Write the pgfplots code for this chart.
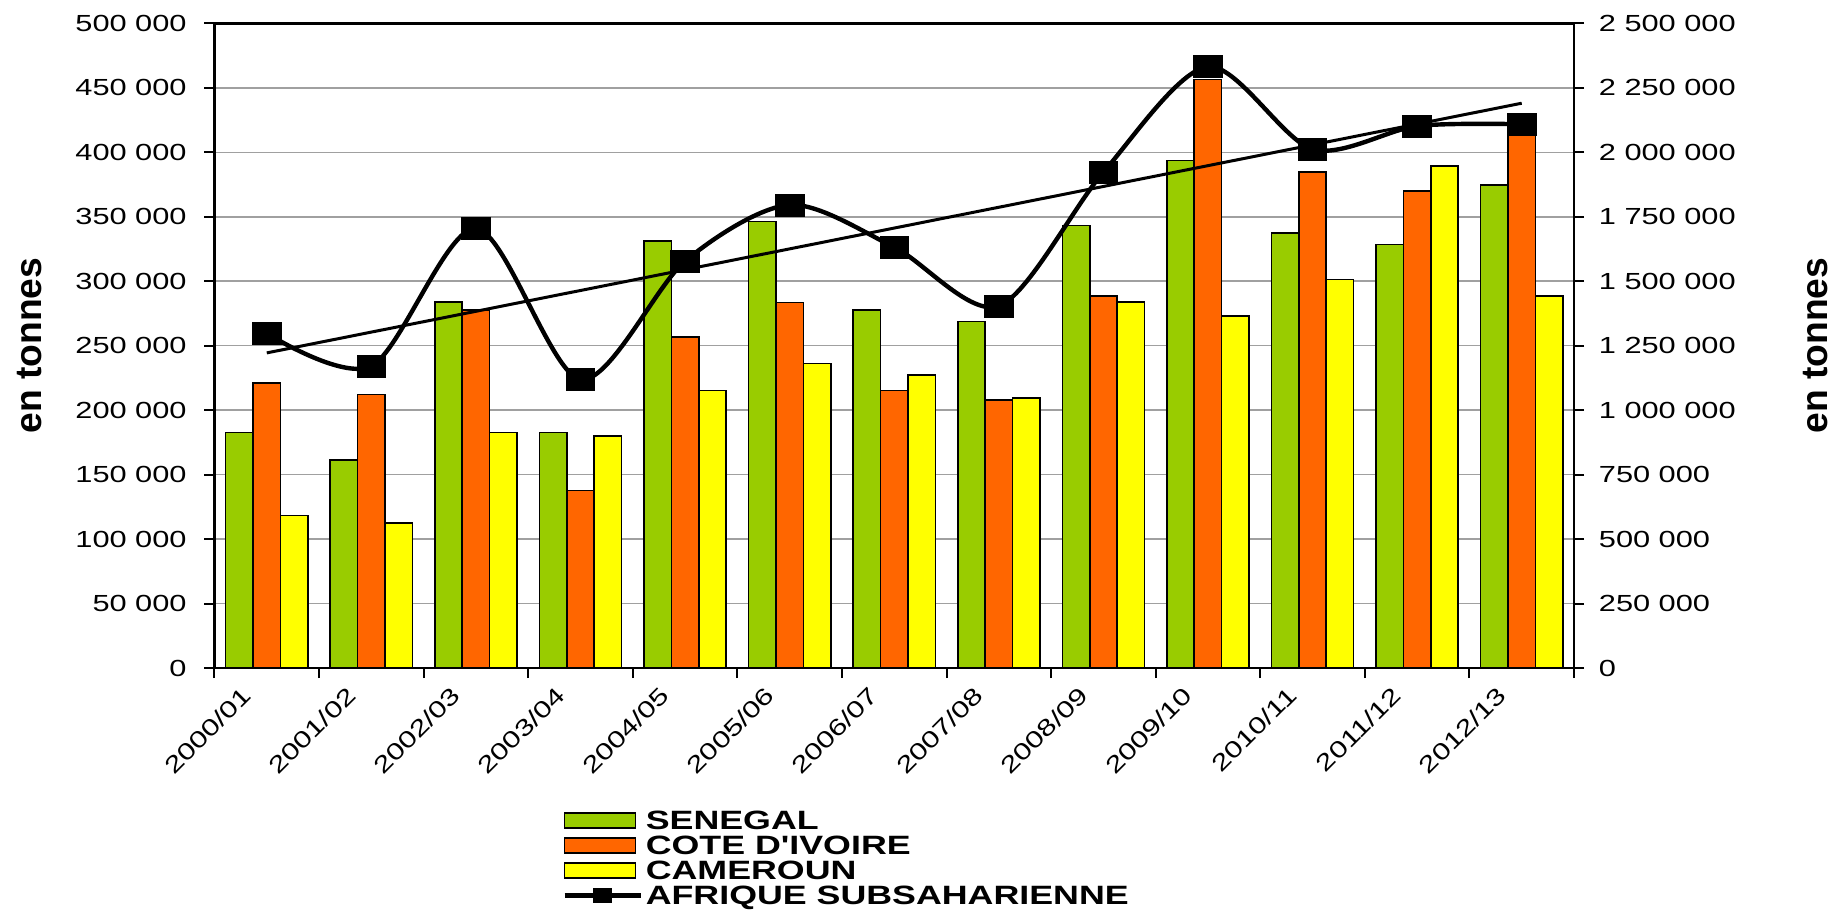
\documentclass[border=0pt]{standalone}
\usepackage{pgfplots}
\pgfplotsset{compat=1.18}
\usepackage{pgfplotstable}
\usepackage{fontspec}
\setmainfont{Liberation Sans}
\newfontfamily\tickfont{Liberation Sans}[FakeStretch=1.32]
\newfontfamily\legfont{Liberation Sans}[FakeStretch=1.35]
\definecolor{sen}{HTML}{99CC00}
\definecolor{civ}{HTML}{FF6600}
\definecolor{cam}{HTML}{FFFF00}
\definecolor{gridc}{HTML}{A0A0A0}
\pgfplotsset{
  barleg/.style={legend image code/.code={\draw[##1] (0pt,-3.75pt) rectangle (35.5pt,3.75pt);}},
  lineleg/.style={legend image code/.code={\draw[##1, mark size=3.4pt, mark repeat=2, mark phase=2] plot coordinates {(0pt,0pt) (19pt,0pt) (38pt,0pt)};}},
  numfmt/.style={/pgf/number format/fixed, /pgf/number format/precision=0, /pgf/number format/1000 sep={\ }, /pgf/number format/assume math mode=true},
}
\pgfplotstableread{
x sen civ cam afr
0 182800 221300 118400 1298000
1 161500 212200 112400 1171000
2 283800 277600 182800 1705000
3 182800 137700 179900 1119000
4 331400 256700 215300 1578000
5 346400 283600 236300 1796000
6 277600 215300 227200 1632000
7 268800 207800 209600 1404000
8 343300 288500 283800 1923000
9 393700 456500 273200 2332000
10 337600 384900 301400 2012000
11 328600 370200 389600 2102000
12 374800 415000 288500 2109000
}\datatable
\begin{document}
\begin{tikzpicture}
\begin{axis}[
  at={(0,0)}, anchor=south west,
  scale only axis, width=679.75pt, height=322.3pt,
  xmin=-0.5, xmax=12.5, ymin=0, ymax=500000,
  ybar=0pt, bar width=13.7pt,
  xtick={-0.5,0.5,1.5,2.5,3.5,4.5,5.5,6.5,7.5,8.5,9.5,10.5,11.5,12.5},
  xticklabels={2000/01,2001/02,2002/03,2003/04,2004/05,2005/06,2006/07,2007/08,2008/09,2009/10,2010/11,2011/12,2012/13,{}},
  xtick pos=bottom, ytick pos=left,
  ytick={0,50000,100000,150000,200000,250000,300000,350000,400000,450000,500000},
  scaled y ticks=false,
  numfmt,
  tick label style={font=\tickfont\fontsize{11.65}{12}\selectfont},
  yticklabel style={inner sep=0pt, xshift=-8.75pt},
  xticklabel style={rotate=45, anchor=east, inner sep=0pt, xshift=7pt, yshift=-16pt},
  ymajorgrids, grid style={gridc, line width=0.75pt},
  axis line style={line width=1.3pt},
  tick style={black, line width=1pt},
  tick align=outside, major tick length=5pt,
  ylabel={en tonnes},
  ylabel style={font=\bfseries\fontsize{18.6}{20}\selectfont, at={(axis description cs:-0.1364,0.5)}, anchor=center},
]
\addplot[fill=sen, draw=black, line width=0.8pt] table[x=x, y=sen] {\datatable};
\addplot[fill=civ, draw=black, line width=0.8pt] table[x=x, y=civ] {\datatable};
\addplot[fill=cam, draw=black, line width=0.8pt] table[x=x, y=cam] {\datatable};
\end{axis}
\begin{axis}[
  at={(0,0)}, anchor=south west,
  scale only axis, width=679.75pt, height=322.3pt,
  xmin=-0.5, xmax=12.5, ymin=0, ymax=2500000,
  axis x line=none, axis y line*=right,
  ytick={0,250000,500000,750000,1000000,1250000,1500000,1750000,2000000,2250000,2500000},
  scaled y ticks=false,
  numfmt,
  tick label style={font=\tickfont\fontsize{11.65}{12}\selectfont},
  yticklabel style={inner sep=0pt, xshift=7.25pt},
  axis line style={line width=1.3pt},
  tick style={black, line width=1pt},
  tick align=outside, major tick length=5pt,
  ylabel={en tonnes},
  ylabel style={font=\bfseries\fontsize{18.6}{20}\selectfont, at={(axis description cs:1.178,0.5)}, anchor=center},
  legend style={at={(axis description cs:0.2556,-0.2164)}, anchor=north west, draw=none, fill=none, inner sep=0pt, row sep=0pt,
    font=\legfont\bfseries\fontsize{13.25}{13.25}\selectfont,
    nodes={inner sep=1.5pt, text height=9.5pt, text depth=0pt},
    /tikz/every even column/.append style={column sep=5pt}},
  legend cell align=left,
]
\addlegendimage{barleg, fill=sen, draw=black, line width=0.8pt}
\addlegendentry{SENEGAL}
\addlegendimage{barleg, fill=civ, draw=black, line width=0.8pt}
\addlegendentry{COTE D'IVOIRE}
\addlegendimage{barleg, fill=cam, draw=black, line width=0.8pt}
\addlegendentry{CAMEROUN}
\addplot[black, line width=1.5pt, forget plot] table[x=x, y={create col/linear regression={y=afr}}] {\datatable};
\addplot[black, line width=2.2pt, smooth, mark=square*, mark size=5.5pt, mark options={solid, xscale=1.3, line width=0.4pt}, lineleg] table[x=x, y=afr] {\datatable};
\addlegendentry{AFRIQUE SUBSAHARIENNE}
\end{axis}
\pgfresetboundingbox
\useasboundingbox (-107.25pt,-121.5pt) rectangle (811.75pt,334pt);
\end{tikzpicture}
\end{document}
